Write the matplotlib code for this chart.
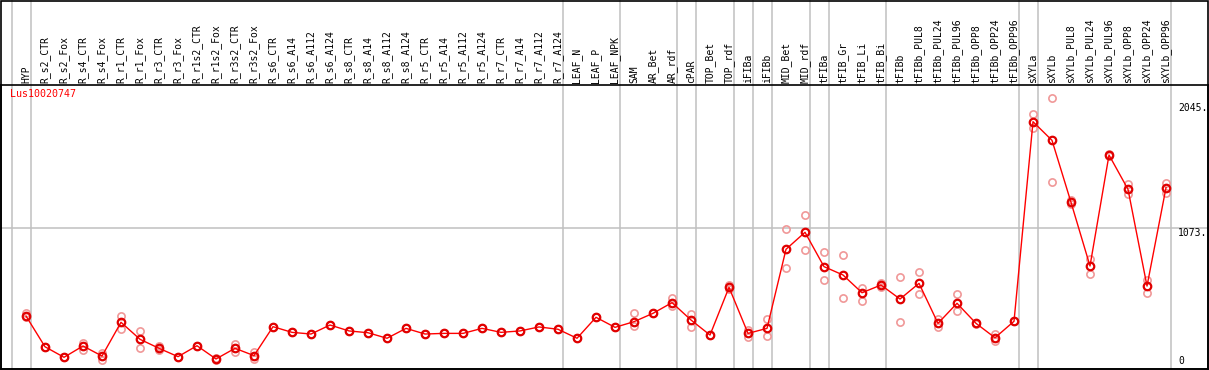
import numpy as np
import matplotlib
matplotlib.use("Agg")
import matplotlib.pyplot as plt
from matplotlib.patches import Rectangle

gene = "Lus10020747"

samples = [
    "HYP", "R_s2_CTR", "R_s2_Fox", "R_s4_CTR", "R_s4_Fox", "R_r1_CTR", "R_r1_Fox",
    "R_r3_CTR", "R_r3_Fox", "R_r1s2_CTR", "R_r1s2_Fox", "R_r3s2_CTR", "R_r3s2_Fox",
    "R_s6_CTR", "R_s6_A14", "R_s6_A112", "R_s6_A124", "R_s8_CTR", "R_s8_A14",
    "R_s8_A112", "R_s8_A124", "R_r5_CTR", "R_r5_A14", "R_r5_A112", "R_r5_A124",
    "R_r7_CTR", "R_r7_A14", "R_r7_A112", "R_r7_A124", "LEAF_N", "LEAF_P", "LEAF_NPK",
    "SAM", "AR_Bet", "AR_rdf", "cPAR", "TOP_Bet", "TOP_rdf", "iFIBa", "iFIBb",
    "MID_Bet", "MID_rdf", "tFIBa", "tFIB_Gr", "tFIB_Li", "tFIB_Bi", "tFIBb",
    "tFIBb_PUL8", "tFIBb_PUL24", "tFIBb_PUL96", "tFIBb_OPP8", "tFIBb_OPP24",
    "tFIBb_OPP96", "sXYLa", "sXYLb", "sXYLb_PUL8", "sXYLb_PUL24", "sXYLb_PUL96",
    "sXYLb_OPP8", "sXYLb_OPP24", "sXYLb_OPP96",
]

mean_expr = [
    391, 152, 70, 158, 80, 342, 210, 140, 75, 160, 57, 140, 83,
    308, 264, 251, 321, 275, 261, 218, 295, 251, 256, 256, 295, 264, 275, 306, 288,
    218, 381, 303, 347, 412, 495, 360, 243, 614, 256, 295,
    910, 1042, 775, 710, 572, 632, 523, 645, 334, 490, 334, 222, 350,
    1902, 1757, 1275, 780, 1643, 1376, 624, 1389,
]

rep_a = [
    414, 152, 70, 179, 106, 391, 277, 160, 75, 160, 62, 173, 111,
    308, 264, 251, 321, 275, 261, 218, 295, 251, 256, 256, 295, 264, 275, 306, 288,
    218, 381, 303, 412, 412, 529, 407, 243, 632, 282, 368,
    1065, 1177, 889, 863, 611, 650, 692, 731, 365, 560, 340, 249, 350,
    1960, 2084, 1290, 832, 1650, 1415, 671, 1423,
]

rep_b = [
    384, 152, 70, 127, 49, 292, 140, 127, 75, 160, 50, 114, 54,
    308, 264, 251, 321, 275, 261, 218, 295, 251, 256, 256, 295, 264, 275, 306, 288,
    218, 381, 303, 313, 412, 469, 303, 243, 599, 230, 236,
    762, 904, 671, 529, 508, 614, 342, 560, 303, 430, 328, 197, 350,
    1851, 1431, 1260, 715, 1636, 1340, 568, 1350,
]

# groups end after these sample indices
group_ends = [-1, 0, 28, 31, 34, 35, 37, 38, 39, 41, 42, 45, 52, 53, 60]
y_ticks = [0, 1073, 2045]
y_tick_labels = ["0", "1073.", "2045."]

W, H = 1209, 370
fig = plt.figure(figsize=(W / 100, H / 100), dpi=100)
top_px, bot_px = 85, 368.5
ax = fig.add_axes([1 / W, (H - bot_px) / H, 1207 / W, (bot_px - top_px) / H])
ax.set_xlim(-1.316, 62.21)
ax.set_ylim(-17.1, 2187.4)
ax.set_xticks([])
ax.set_yticks([])
for s in ax.spines.values():
    s.set_linewidth(1.2)

mono = "DejaVu Sans Mono"
grey = "#c0c0c0"
x = np.arange(len(samples))
ymax_ext = 1 + top_px / (bot_px - top_px)

for g in group_ends:
    ax.axvline(g + 0.25, ymin=0, ymax=ymax_ext, color=grey, lw=1.1,
               clip_on=False, zorder=1)
ax.axhline(y_ticks[1], color=grey, lw=1.1, zorder=1)

ax.plot(x, rep_a, "o", ms=5.2, mfc="none", mec="#f09898", mew=1.2, zorder=2)
ax.plot(x, rep_b, "o", ms=5.2, mfc="none", mec="#f09898", mew=1.2, zorder=2)
ax.plot(x, mean_expr, "-", color="#ff0000", lw=1.0, zorder=3)
ax.plot(x, mean_expr, "o", ms=5.4, mfc="none", mec="#e00000", mew=1.6, zorder=4)

lab_tr = ax.get_xaxis_transform()
for xi, name in zip(x, samples):
    ax.text(xi, 1 + 2 / (bot_px - top_px), name, rotation=90, ha="center",
            va="bottom", fontsize=7, family=mono, transform=lab_tr, clip_on=False)

ax.text(-0.85, 2115, gene, color="#ff0000", fontsize=7.2, family=mono,
        ha="left", va="center")

for v, lab in zip(y_ticks, y_tick_labels):
    ax.text(60.63, v, lab, fontsize=7, family=mono, ha="left",
            va="bottom" if v == 0 else "top")

fig.add_artist(Rectangle((1 / W, (H - bot_px) / H), 1207 / W, bot_px / H - 0.5 / H,
                         transform=fig.transFigure, fill=False, lw=1.2,
                         edgecolor="black"))

fig.savefig("out.png", dpi=100)
